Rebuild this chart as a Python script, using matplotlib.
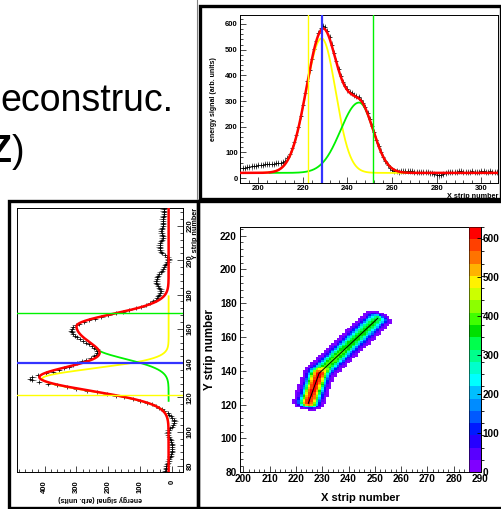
import numpy as np
import matplotlib
matplotlib.use("Agg")
import matplotlib.pyplot as plt
from matplotlib.colors import ListedColormap, BoundaryNorm
from matplotlib.lines import Line2D
from matplotlib.patches import Rectangle
from matplotlib.ticker import MultipleLocator

W, H = 502, 509

# ---- X strip profile (top right) ----
x_strip = np.arange(193, 308)
x_signal = [38, 40, 42, 43, 45, 46, 48, 50, 51, 52, 53, 54, 55, 55, 56, 57, 58, 60, 63, 68,
            78, 95, 115, 140, 168, 200, 240, 285, 330, 378,
            420, 462, 502, 535, 565, 585, 592, 588, 572, 550,
            520, 488, 455, 425, 398, 375, 358, 345, 336, 330,
            325, 320, 314, 305, 292, 275, 252, 228, 203, 178,
            150, 125, 103, 82, 65, 50, 40, 32, 28, 26,
            25, 26, 27, 26, 27, 26, 26, 25, 24, 24,
            23, 23, 22, 22, 20, 18, 15, 12, 10, 12,
            17, 20, 22, 23, 24, 25, 25, 26, 26, 25,
            25, 24, 25, 26, 25, 24, 25, 26, 26, 25,
            25, 26, 25, 24, 25]
x_err = 12
# fit: baseline + two gaussians (mean, amplitude, sigma left, sigma right)
x_base = 20
x_gaus1 = (228.4, 524, 7.0, 6.3)
x_gaus2 = (245.2, 274, 8.3, 6.3)
x_range1 = (200, 266)
x_range2 = (205, 307.5)
x_marks = [222.4, 228.4, 251.3]
x_ticks = [200, 220, 240, 260, 280, 300]
x_sig_ticks = [0, 100, 200, 300, 400, 500, 600]

# ---- Y strip profile (bottom left, drawn rotated) ----
y_strip = np.arange(77, 231)
y_signal = [22, 20, 20, 19, 17, 14, 12, 10, 8, 6,
            4, 3, 2, 2, 3, 3, 3, 4, 5, 8,
            11, 14, 15, 14, 12, 8, 3, -2, -5, -6,
            -4, 0, 5, 10, 15,
            25, 32, 42, 52, 64, 80, 100, 124, 150, 178,
            206, 236, 268, 300, 330, 360, 390, 418, 438, 445, 438,
            420, 396, 375, 356, 340, 325, 312, 298, 284, 270,
            256, 246, 240, 236, 236, 238, 244, 252, 260, 270,
            280, 290, 298, 305, 310, 314, 316, 315, 311, 303,
            292, 278, 262, 243, 222, 200, 178, 156, 135, 115,
            97, 82, 70, 60, 53, 48, 45, 42,
            38, 37, 38, 42, 46, 49, 50, 50, 49, 48,
            46, 42, 37, 33, 30, 27, 24, 20, 16, 13,
            12, 16, 24, 32, 36, 38, 39, 40, 40, 39,
            36, 33, 31, 31, 32, 34, 35, 34, 32, 30,
            29, 29, 30, 31, 30, 28, 27, 27, 28, 28]
y_err = 10
y_base = 12
y_fit1 = (131, 355, 7.5, 7.0)
y_fit2 = (161.5, 288, 16, 7.2)
y_gaus1 = (131, 395, 7.5, 5.8)
y_gaus2 = (149, 225, 6.5, 6.5)
y_range1 = (105, 179)
y_range2 = (118, 148.5)
y_marks = [121.2, 139.9, 169.3]
y_ticks = [80, 100, 120, 140, 160, 180, 200, 220]
y_sig_ticks = [0, 100, 200, 300, 400]

# ---- reconstructed track in the XY plane ----
track_x = [224.7, 228.8, 231.5, 251.1]
track_y = [120.8, 138.6, 142.5, 171.1]
track_peak = [600, 615, 400, 345]
track_width = 2.6
track_power = 2.7
end_width = 1.6
threshold = 3
cell_x = np.arange(199, 291)
cell_y = np.arange(80, 226)
map_x_ticks = [200, 210, 220, 230, 240, 250, 260, 270, 280, 290]
map_y_ticks = [80, 100, 120, 140, 160, 180, 200, 220]
z_ticks = [0, 100, 200, 300, 400, 500, 600]

palette = [(0.50, 0.00, 1.00), (0.35, 0.00, 1.00), (0.15, 0.00, 1.00), (0.00, 0.10, 1.00),
           (0.00, 0.35, 1.00), (0.00, 0.55, 1.00), (0.00, 0.75, 1.00), (0.00, 1.00, 1.00),
           (0.00, 1.00, 0.80), (0.00, 1.00, 0.55), (0.00, 1.00, 0.30), (0.00, 0.88, 0.00),
           (0.25, 1.00, 0.00), (0.55, 1.00, 0.00), (0.80, 1.00, 0.00), (1.00, 0.95, 0.00),
           (1.00, 0.70, 0.00), (1.00, 0.45, 0.00), (1.00, 0.25, 0.00), (1.00, 0.00, 0.00)]
z_max = 630


def gaus(t, mean, amp, sl, sr):
    t = np.asarray(t, float)
    s = np.where(t < mean, sl, sr)
    return amp * np.exp(-0.5 * ((t - mean) / s) ** 2)


def track_energy(gx, gy):
    gx = gx.astype(float)
    gy = gy.astype(float)
    best = np.zeros_like(gx)
    nseg = len(track_x) - 1
    for i in range(nseg):
        dx = track_x[i + 1] - track_x[i]
        dy = track_y[i + 1] - track_y[i]
        L = np.hypot(dx, dy)
        ux, uy = dx / L, dy / L
        rx, ry = gx - track_x[i], gy - track_y[i]
        s = rx * ux + ry * uy
        perp = -rx * uy + ry * ux
        t = np.clip(s / L, 0, 1)
        peak = track_peak[i] + t * (track_peak[i + 1] - track_peak[i])
        along = np.where(s < 0, s, np.where(s > L, s - L, 0.0))
        scale = np.ones_like(gx)
        if i == 0:
            scale = np.where(s < 0, track_width / end_width, scale)
        if i == nseg - 1:
            scale = np.where(s > L, track_width / end_width, scale)
        d = np.hypot(perp, along * scale)
        val = peak * np.exp(-0.5 * (d / track_width) ** track_power)
        best = np.maximum(best, val)
    return best


def box(x0, y0, x1, y1):
    return [x0 / W, 1 - y1 / H, (x1 - x0) / W, (y1 - y0) / H]


def root_style(ax, fs, pad):
    ax.tick_params(which='both', direction='in', labelsize=fs, width=0.5, pad=pad)
    ax.tick_params(which='major', length=4)
    ax.tick_params(which='minor', length=2)
    for sp in ax.spines.values():
        sp.set_linewidth(0.7)


def set_ticks(ax, xt, yt, xminor, yminor, fs, xrot=0, yrot=0):
    ax.set_xticks(xt)
    ax.set_xticklabels([str(v) for v in xt], fontweight='bold', fontsize=fs, rotation=xrot)
    ax.set_yticks(yt)
    ax.set_yticklabels([str(v) for v in yt], fontweight='bold', fontsize=fs, rotation=yrot)
    ax.xaxis.set_minor_locator(MultipleLocator(xminor))
    ax.yaxis.set_minor_locator(MultipleLocator(yminor))


plt.rcParams['font.family'] = ['Liberation Sans', 'DejaVu Sans']
plt.rcParams['font.weight'] = 'bold'

fig = plt.figure(figsize=(W / 100, H / 100), dpi=100)

# slide text
fig.text(0 / W, 1 - 111 / H, "econstruc.", fontsize=27, fontweight='normal', va='baseline')
fig.text(-11 / W, 1 - 162 / H, "Z", fontsize=27, fontweight='bold', va='baseline')
fig.text(12 / W, 1 - 162 / H, ")", fontsize=27, fontweight='normal', va='baseline')

# panel frames
for (x0, y0, x1, y1) in [(200.5, 5.5, 501, 199), (9, 201, 198.5, 507.5), (198.5, 201, 512, 507.5)]:
    fig.add_artist(Rectangle((x0 / W, 1 - y1 / H), (x1 - x0) / W, (y1 - y0) / H,
                             transform=fig.transFigure, fill=False, ec='black', lw=2.4))
fig.add_artist(Line2D([197.5 / W, 197.5 / W], [1.0, 1 - 199 / H], transform=fig.transFigure,
                      color='0.5', lw=0.8))

# ---- top right: X profile ----
ax1 = fig.add_axes(box(240, 15, 498, 183))
ax1.errorbar(x_strip, x_signal, yerr=x_err, xerr=0.5, fmt='+', color='k', ms=2.5, mew=0.5,
             ecolor='0.35', elinewidth=0.5, capsize=0, zorder=2)
xf1 = np.linspace(*x_range1, 600)
xf2 = np.linspace(*x_range2, 600)
xf = np.linspace(191.8, 307.5, 800)
ax1.plot(xf1, x_base + gaus(xf1, *x_gaus1), color='yellow', lw=1.3, zorder=3)
ax1.plot(xf2, x_base + gaus(xf2, *x_gaus2), color=(0, 0.95, 0), lw=1.3, zorder=3)
ax1.plot(xf, x_base + gaus(xf, *x_gaus1) + gaus(xf, *x_gaus2), color='red', lw=1.8, zorder=4)
for xm, c, lw in zip(x_marks, ['yellow', (0.2, 0.2, 1.0), (0, 0.95, 0)], [1.0, 1.6, 1.0]):
    ax1.axvline(xm, color=c, lw=lw, zorder=5)
set_ticks(ax1, x_ticks, x_sig_ticks, 4, 20, 5.5)
ax1.set_xlim(191.8, 307.5)
ax1.set_ylim(-19.4, 635)
root_style(ax1, 5.5, 1.5)
ax1.set_xlabel("X strip number", loc='right', fontsize=5.2, fontweight='bold', labelpad=0.5)
ax1.set_ylabel("energy signal (arb. units)", fontsize=5.0, fontweight='bold', labelpad=6)

# ---- bottom left: Y profile (rotated) ----
ax2 = fig.add_axes(box(17, 208.3, 182.7, 471.7))
ax2.errorbar(y_signal, y_strip, xerr=y_err, yerr=0.5, fmt='+', color='k', ms=2.5, mew=0.5,
             ecolor='0.35', elinewidth=0.5, capsize=0, zorder=2)
yf1 = np.linspace(*y_range1, 600)
yf2 = np.linspace(*y_range2, 600)
yf = np.linspace(76.7, 230.3, 900)
ax2.plot(y_base + gaus(yf1, *y_gaus1), yf1, color='yellow', lw=1.3, zorder=3)
ax2.plot(y_base + gaus(yf2, *y_gaus2), yf2, color=(0, 0.95, 0), lw=1.3, zorder=3)
ax2.plot(y_base + gaus(yf, *y_fit1) + gaus(yf, *y_fit2), yf, color='red', lw=1.8, zorder=4)
for ym, c, lw in zip(y_marks, ['yellow', (0.2, 0.2, 1.0), (0, 0.95, 0)], [1.0, 1.6, 1.0]):
    ax2.axhline(ym, color=c, lw=lw, zorder=5)
ax2.yaxis.tick_right()
set_ticks(ax2, y_sig_ticks, y_ticks, 20, 4, 5.5, xrot=90, yrot=90)
plt.setp(ax2.get_yticklabels(), va='center')
ax2.set_xlim(486, -32)
ax2.set_ylim(76.7, 230.3)
root_style(ax2, 5.5, 3)
ax2.tick_params(axis='x', pad=6)
ax2.tick_params(axis='y', which='both', direction='in', left=False, right=True)
ax2.set_xlabel("energy signal (arb. units)", rotation=180, fontsize=5.0, fontweight='bold',
               labelpad=1.5)
ax2.yaxis.set_label_position('right')
ax2.set_ylabel("Y strip number", loc='top', rotation=90, fontsize=5.2, fontweight='bold',
               labelpad=-1)

# ---- bottom right: XY map ----
ax3 = fig.add_axes(box(240, 226.7, 481, 472.3))
gx, gy = np.meshgrid(cell_x, cell_y)
z = np.ma.masked_less(track_energy(gx, gy), threshold)
cmap = ListedColormap(palette)
norm = BoundaryNorm(np.linspace(0, z_max, len(palette) + 1), cmap.N)
mesh = ax3.pcolormesh(np.append(cell_x, cell_x[-1] + 1) - 0.5,
                      np.append(cell_y, cell_y[-1] + 1) - 0.5, z, cmap=cmap, norm=norm)
ax3.plot(track_x, track_y, color='k', lw=0.7)
set_ticks(ax3, map_x_ticks, map_y_ticks, 2, 4, 7.2)
ax3.set_xlim(198.7, 290.4)
ax3.set_ylim(80, 225.3)
root_style(ax3, 7.2, 1.5)
ax3.tick_params(axis='y', pad=2.3)
ax3.set_xlabel("X strip number", fontsize=8, fontweight='bold', labelpad=6)
ax3.set_ylabel("Y strip number", fontsize=8.3, fontweight='bold', labelpad=3)

cax = fig.add_axes(box(469, 226.7, 481, 472.3))
cb = fig.colorbar(mesh, cax=cax, ticks=z_ticks)
cb.outline.set_linewidth(0.4)
cax.set_yticklabels([str(v) for v in z_ticks], fontweight='bold', fontsize=7.2)
cax.tick_params(direction='in', length=3, width=0.6, pad=1)

fig.savefig("out.png", dpi=100)
